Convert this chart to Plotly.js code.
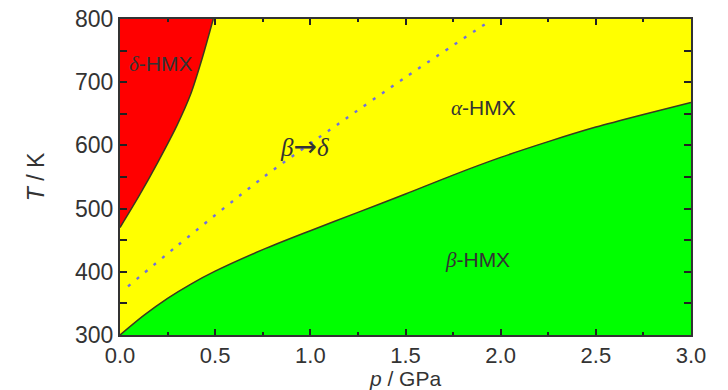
<!DOCTYPE html>
<html>
<head>
<meta charset="utf-8">
<script src="https://cdn.plot.ly/plotly-3.0.1.min.js"></script>
<style>html,body{margin:0;padding:0;background:#fff;}#chart{width:728px;height:390px;}</style>
</head>
<body>
<div id="chart"></div>
<script>
// delta / alpha boundary (p in GPa, T in K)
const deltaP = [0, 0.1, 0.2, 0.3, 0.37, 0.43, 0.49];
const deltaT = [470, 520, 574, 632, 680, 736, 800];
// beta / alpha boundary
const betaP = [0, 0.125, 0.25, 0.375, 0.5, 0.75, 1.0, 1.25, 1.5, 1.75, 2.0, 2.25, 2.5, 2.75, 3.0];
const betaT = [300, 331, 358, 381, 401, 435, 465, 494, 523, 553, 581, 606, 629, 649, 668];
// beta -> delta metastable line (dotted)
const bdP = [0.042, 0.30, 0.753, 1.147, 1.506, 1.934];
const bdT = [377, 441, 549.5, 634, 709, 795];
// tick labels
const xTicks = [0, 0.5, 1.0, 1.5, 2.0, 2.5, 3.0];
const xTickText = ['0.0', '0.5', '1.0', '1.5', '2.0', '2.5', '3.0'];
const yTicks = [300, 400, 500, 600, 700, 800];

const serif = 'Liberation Serif, DejaVu Serif, serif';
const sans = 'Liberation Sans, Arial, sans-serif';
const narrow = 'Liberation Sans Narrow, Arial Narrow, Liberation Sans, sans-serif';
const txtColor = '#333333';
const lineCol = '#3a3a20';

const traces = [
  {x: betaP, y: betaT, type: 'scatter', mode: 'lines', fill: 'tozeroy', fillcolor: '#00ff00',
   line: {color: lineCol, width: 1.5, shape: 'spline', smoothing: 0.8}, hoverinfo: 'skip'},
  {x: deltaP, y: deltaT, type: 'scatter', mode: 'lines', fill: 'tozerox', fillcolor: '#ff0000',
   line: {color: lineCol, width: 1.5, shape: 'spline', smoothing: 0.8}, hoverinfo: 'skip'},
  {x: bdP, y: bdT, type: 'scatter', mode: 'lines',
   line: {color: '#6f6fe0', width: 2.4, dash: '3px,8px', shape: 'spline', smoothing: 0.8}, hoverinfo: 'skip'}
];

function g(s) { return '<span style="font-family:' + serif + '"><i>' + s + '</i></span>'; }

const annFont = {family: sans, size: 21, color: txtColor};
const layout = {
  width: 728, height: 390,
  margin: {l: 120, r: 37, t: 19, b: 55},
  paper_bgcolor: '#ffffff', plot_bgcolor: '#ffff00',
  showlegend: false,
  xaxis: {
    range: [0, 3.0], tickvals: xTicks, ticktext: xTickText,
    ticks: 'inside', ticklen: 6, tickwidth: 2, tickcolor: '#222',
    minor: {ticks: 'inside', dtick: 0.25, ticklen: 3, tickwidth: 2, tickcolor: '#222'},
    showline: true, linecolor: '#333', linewidth: 2, mirror: 'ticks',
    showgrid: false, zeroline: false,
    tickfont: {family: narrow, size: 22, color: txtColor},
    title: {text: '<i>p</i> / GPa', font: {family: narrow, size: 21, color: txtColor}, standoff: 2}
  },
  yaxis: {
    range: [300, 800], tickvals: yTicks,
    ticks: 'inside', ticklen: 7, tickwidth: 2, tickcolor: '#222',
    minor: {ticks: 'inside', dtick: 50, ticklen: 7, tickwidth: 2, tickcolor: '#222'},
    showline: true, linecolor: '#333', linewidth: 2, mirror: 'ticks',
    showgrid: false, zeroline: false,
    tickfont: {family: narrow, size: 23, color: txtColor},
    title: {text: '<i>T</i> / K', font: {family: narrow, size: 23, color: txtColor}, standoff: 24}
  },
  annotations: [
    {x: 0.213, y: 729, xref: 'x', yref: 'y', text: g('δ') + '-HMX', showarrow: false, font: annFont},
    {x: 1.909, y: 659, xref: 'x', yref: 'y', text: g('α') + '-HMX', showarrow: false, font: annFont},
    {x: 0.97, y: 599, xref: 'x', yref: 'y', text: g('β') + '<span style="font-family:DejaVu Sans;font-size:28px">→</span>' + g('δ'), showarrow: false, font: {family: serif, size: 25, color: txtColor}},
    {x: 1.876, y: 419, xref: 'x', yref: 'y', text: g('β') + '-HMX', showarrow: false, font: annFont}
  ]
};

Plotly.newPlot('chart', traces, layout, {staticPlot: true, displayModeBar: false});
</script>
</body>
</html>
